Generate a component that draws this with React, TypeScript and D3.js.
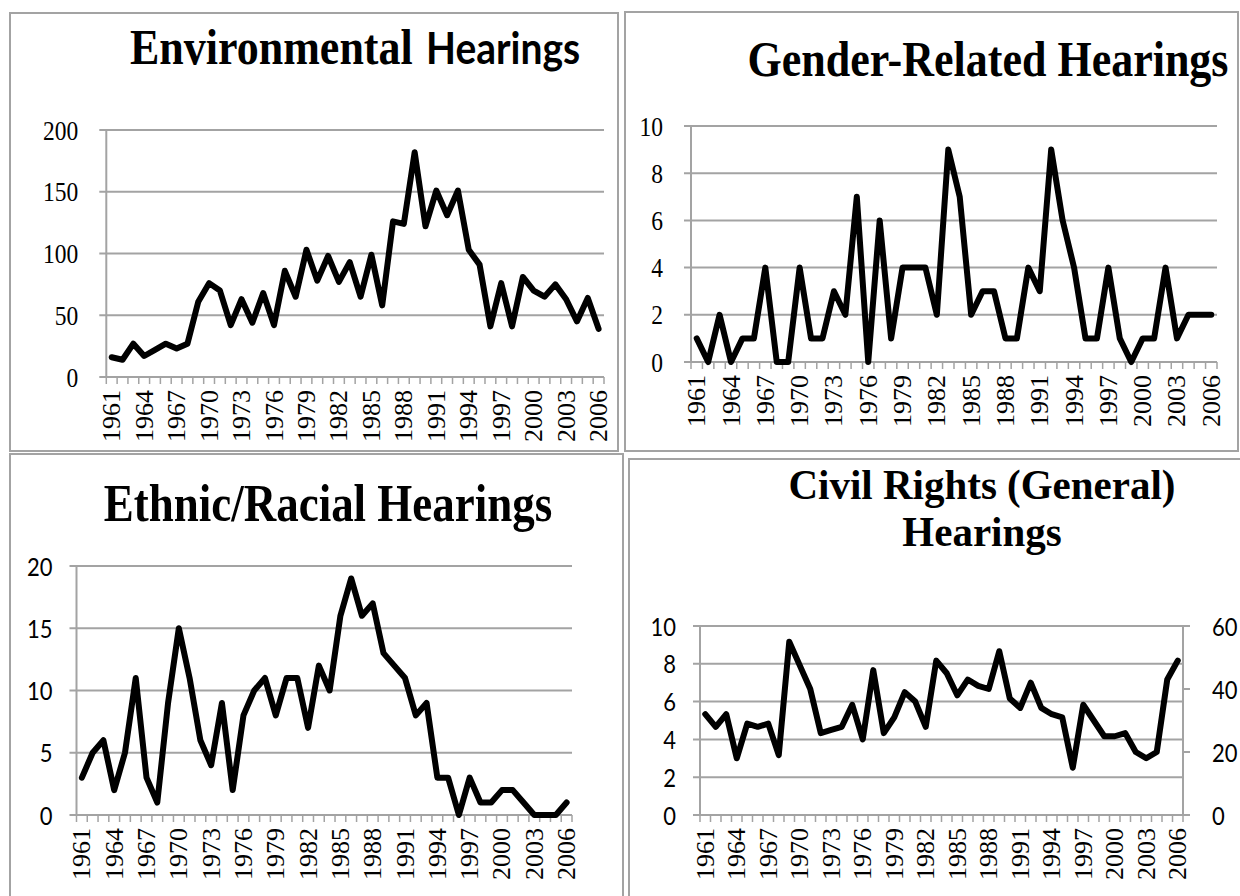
import React from "react";
import * as d3 from "d3";

// hearings per year, 1961-2006
const years = d3.range(1961, 2007);

const environmental = [
  16, 14, 27, 17, 22, 27, 23, 27, 61, 76,
  70, 42, 63, 44, 68, 42, 86, 65, 103, 78,
  98, 77, 93, 65, 99, 58, 126, 124, 182, 122,
  151, 131, 151, 103, 91, 41, 76, 41, 81, 70,
  65, 75, 63, 45, 64, 39,
];

const gender = [
  1, 0, 2, 0, 1, 1, 4, 0, 0, 4,
  1, 1, 3, 2, 7, 0, 6, 1, 4, 4,
  4, 2, 9, 7, 2, 3, 3, 1, 1, 4,
  3, 9, 6, 4, 1, 1, 4, 1, 0, 1,
  1, 4, 1, 2, 2, 2,
];

const ethnic = [
  3, 5, 6, 2, 5, 11, 3, 1, 9, 15,
  11, 6, 4, 9, 2, 8, 10, 11, 8, 11,
  11, 7, 12, 10, 16, 19, 16, 17, 13, 12,
  11, 8, 9, 3, 3, 0, 3, 1, 1, 2,
  2, 1, 0, 0, 0, 1,
];

// plotted on the secondary (right) axis
const civilRights = [
  32, 28, 32, 18, 29, 28, 29, 19, 55, 47.5,
  40, 26, 27, 28, 35, 24, 46, 26, 31, 39,
  36, 28, 49, 45, 38, 43, 41, 40, 52, 37,
  34, 42, 34, 32, 31, 15, 35, 30, 25, 25,
  26, 20, 18, 20, 43, 49,
];

const labelYears = years.filter((y) => (y - 1961) % 3 === 0);

const envTicks = [0, 50, 100, 150, 200];
const genderTicks = [0, 2, 4, 6, 8, 10];
const ethnicTicks = [0, 5, 10, 15, 20];
const civilLeftTicks = [0, 2, 4, 6, 8, 10];
const civilRightTicks = [0, 20, 40, 60];

const SERIF = "'Liberation Serif', 'Times New Roman', serif";
const SANS = "Lato, 'Open Sans', sans-serif";
const GRID = "#a3a3a3";
// the scanned page is a little taller than wide, so text gets stretched
const STRETCH = 1.15;

type PanelProps = {
  box: { x: number; y: number; w: number; h: number };
  plot: { left: number; right: number; top: number; bottom: number };
  values: number[];
  ticks: number[];
  tickFont: string;
  title: React.ReactNode;
  rightTicks?: number[];
};

const Title = ({ x, y, size, children, anchor = "middle", family = SERIF, stretch = STRETCH }: any) => (
  <text
    transform={`translate(${x},${y}) scale(1,${stretch})`}
    textAnchor={anchor}
    fontWeight="bold"
    fontSize={size}
    fontFamily={family}
  >
    {children}
  </text>
);

const Panel = ({ box, plot, values, ticks, tickFont, title, rightTicks }: PanelProps) => {
  const x = d3.scaleBand<number>().domain(years).range([plot.left, plot.right]);
  const y = d3
    .scaleLinear()
    .domain([0, ticks[ticks.length - 1]])
    .range([plot.bottom, plot.top]);
  const yLine = rightTicks
    ? d3.scaleLinear().domain([0, rightTicks[rightTicks.length - 1]]).range([plot.bottom, plot.top])
    : y;
  const cx = (yr: number) => (x(yr) as number) + x.bandwidth() / 2;
  const line = d3
    .line<number>()
    .x((_, i) => cx(years[i]))
    .y((d) => yLine(d));
  const bounds = years.map((yr) => x(yr) as number).concat([plot.right]);
  const tickSize = tickFont === SERIF ? 23.5 : 22;

  return (
    <g>
      <rect x={box.x} y={box.y} width={box.w} height={box.h} fill="#fff" stroke={GRID} strokeWidth={2} />
      {title}
      {ticks.map((t) => (
        <g key={t}>
          <line x1={plot.left - 7} x2={plot.right} y1={y(t)} y2={y(t)} stroke={GRID} strokeWidth={2} />
          <text
            transform={`translate(${plot.left - (tickFont === SERIF ? 28 : 24)},${y(t)}) scale(1,${STRETCH})`}
            textAnchor="end"
            dominantBaseline="central"
            fontFamily={tickFont}
            fontSize={tickSize}
          >
            {t}
          </text>
        </g>
      ))}
      <line x1={plot.left} x2={plot.left} y1={plot.top} y2={plot.bottom} stroke={GRID} strokeWidth={2} />
      {rightTicks && (
        <g>
          <line x1={plot.right} x2={plot.right} y1={plot.top} y2={plot.bottom} stroke={GRID} strokeWidth={2} />
          {rightTicks.map((t) => (
            <g key={t}>
              <line x1={plot.right} x2={plot.right + 7} y1={yLine(t)} y2={yLine(t)} stroke={GRID} strokeWidth={2} />
              <text
                transform={`translate(${plot.right + 29},${yLine(t)}) scale(1,${STRETCH})`}
                dominantBaseline="central"
                fontFamily={tickFont}
                fontSize={22}
              >
                {t}
              </text>
            </g>
          ))}
        </g>
      )}
      {bounds.map((b, i) => (
        <line key={i} x1={b} x2={b} y1={plot.bottom} y2={plot.bottom + 7} stroke={GRID} strokeWidth={1.5} />
      ))}
      {labelYears.map((yr) => (
        <text
          key={yr}
          transform={`translate(${cx(yr)},${plot.bottom + 13}) rotate(-90)`}
          textAnchor="end"
          dominantBaseline="central"
          fontFamily={SERIF}
          fontSize={26}
        >
          {yr}
        </text>
      ))}
      <path
        d={line(values) as string}
        fill="none"
        stroke="#000"
        strokeWidth={6}
        strokeLinejoin="round"
        strokeLinecap="round"
      />
    </g>
  );
};

const App = () => {
  return (
    <svg
      width={1240}
      height={896}
      style={{ position: "fixed", left: 0, top: 0, background: "#fff" }}
    >
      <Panel
        box={{ x: 10, y: 13, w: 608, h: 438 }}
        plot={{ left: 106.3, right: 604, top: 130, bottom: 377 }}
        values={environmental}
        ticks={envTicks}
        tickFont={SERIF}
        title={
          <g>
            <Title x={130} y={64} size={44} anchor="start">Environmental</Title>
            <Title x={426} y={64} size={39} anchor="start" family={SANS}>Hearings</Title>
          </g>
        }
      />
      <Panel
        box={{ x: 625, y: 12, w: 613, h: 439 }}
        plot={{ left: 691, right: 1217, top: 126, bottom: 362 }}
        values={gender}
        ticks={genderTicks}
        tickFont={SERIF}
        title={<Title x={988} y={76} size={44}>Gender-Related Hearings</Title>}
      />
      <Panel
        box={{ x: 10, y: 454, w: 613, h: 450 }}
        plot={{ left: 76.5, right: 572, top: 566, bottom: 815 }}
        values={ethnic}
        ticks={ethnicTicks}
        tickFont={SANS}
        title={<Title x={328} y={521} size={45}>Ethnic/Racial Hearings</Title>}
      />
      <Panel
        box={{ x: 629, y: 459, w: 612, h: 445 }}
        plot={{ left: 700, right: 1183, top: 626, bottom: 815 }}
        values={civilRights}
        ticks={civilLeftTicks}
        rightTicks={civilRightTicks}
        tickFont={SANS}
        title={
          <g>
            <Title x={982} y={499} size={41} stretch={1.05}>Civil Rights (General)</Title>
            <Title x={982} y={546} size={41} stretch={1.05}>Hearings</Title>
          </g>
        }
      />
    </svg>
  );
};

export default App;
